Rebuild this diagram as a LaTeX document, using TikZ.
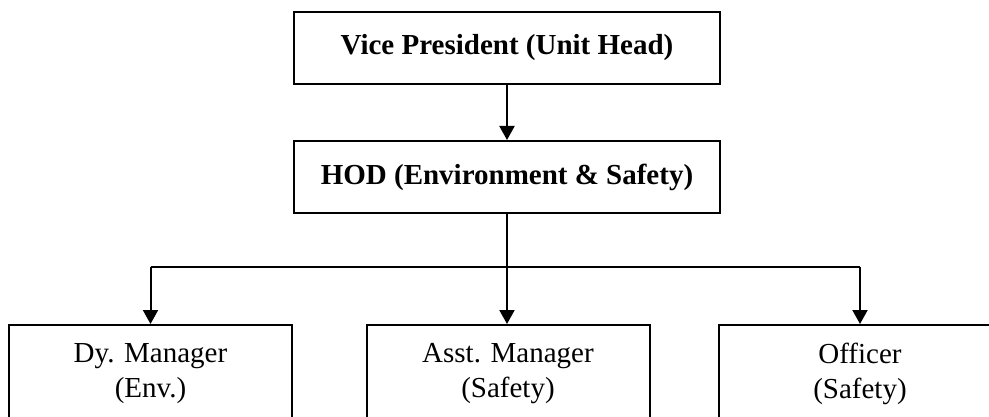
\documentclass[tikz,border=0pt]{standalone}
\usepackage{fontspec}
\setmainfont{Liberation Serif}
\usetikzlibrary{arrows.meta}
\begin{document}
\begin{tikzpicture}[x=1pt,y=-1pt,
  box/.style={draw, line width=2pt, rectangle, align=center, inner sep=0pt,
    font=\fontsize{29}{35}\selectfont},
  topbox/.style={box, minimum width=426pt, minimum height=72pt, font=\fontsize{29}{35}\selectfont\bfseries},
  lowbox/.style={box, minimum width=283pt, minimum height=97pt},
  link/.style={line width=2pt},
  arr/.style={link, -{Triangle[length=14pt,width=15pt]}}]
\useasboundingbox (0,0) rectangle (989,417);
\clip (0,0) rectangle (989,417);
\node[topbox] (vp) at (507,48) {Vice President (Unit Head)};
\node[topbox] (hod) at (507,177) {HOD (Environment \& Safety)};
\node[lowbox] (dm) at (150.5,373.5) {Dy. Manager\\(Env.)};
\node[lowbox] (am) at (508,373.5) {Asst. Manager\\(Safety)};
\node[lowbox] (of) at (860,373.5) {Officer\\(Safety)};
\coordinate (jl) at (150.5,267);
\coordinate (jr) at (860,267);
\draw[arr] (vp.south) -- (hod.south |- vp.south) -- (hod.north);
\draw[arr] (hod.south) -- (hod.south |- am.north);
\draw[link] (jl) -- (jr);
\draw[arr] (jl) -- (dm.north);
\draw[arr] (jr) -- (of.north);
\end{tikzpicture}
\end{document}
